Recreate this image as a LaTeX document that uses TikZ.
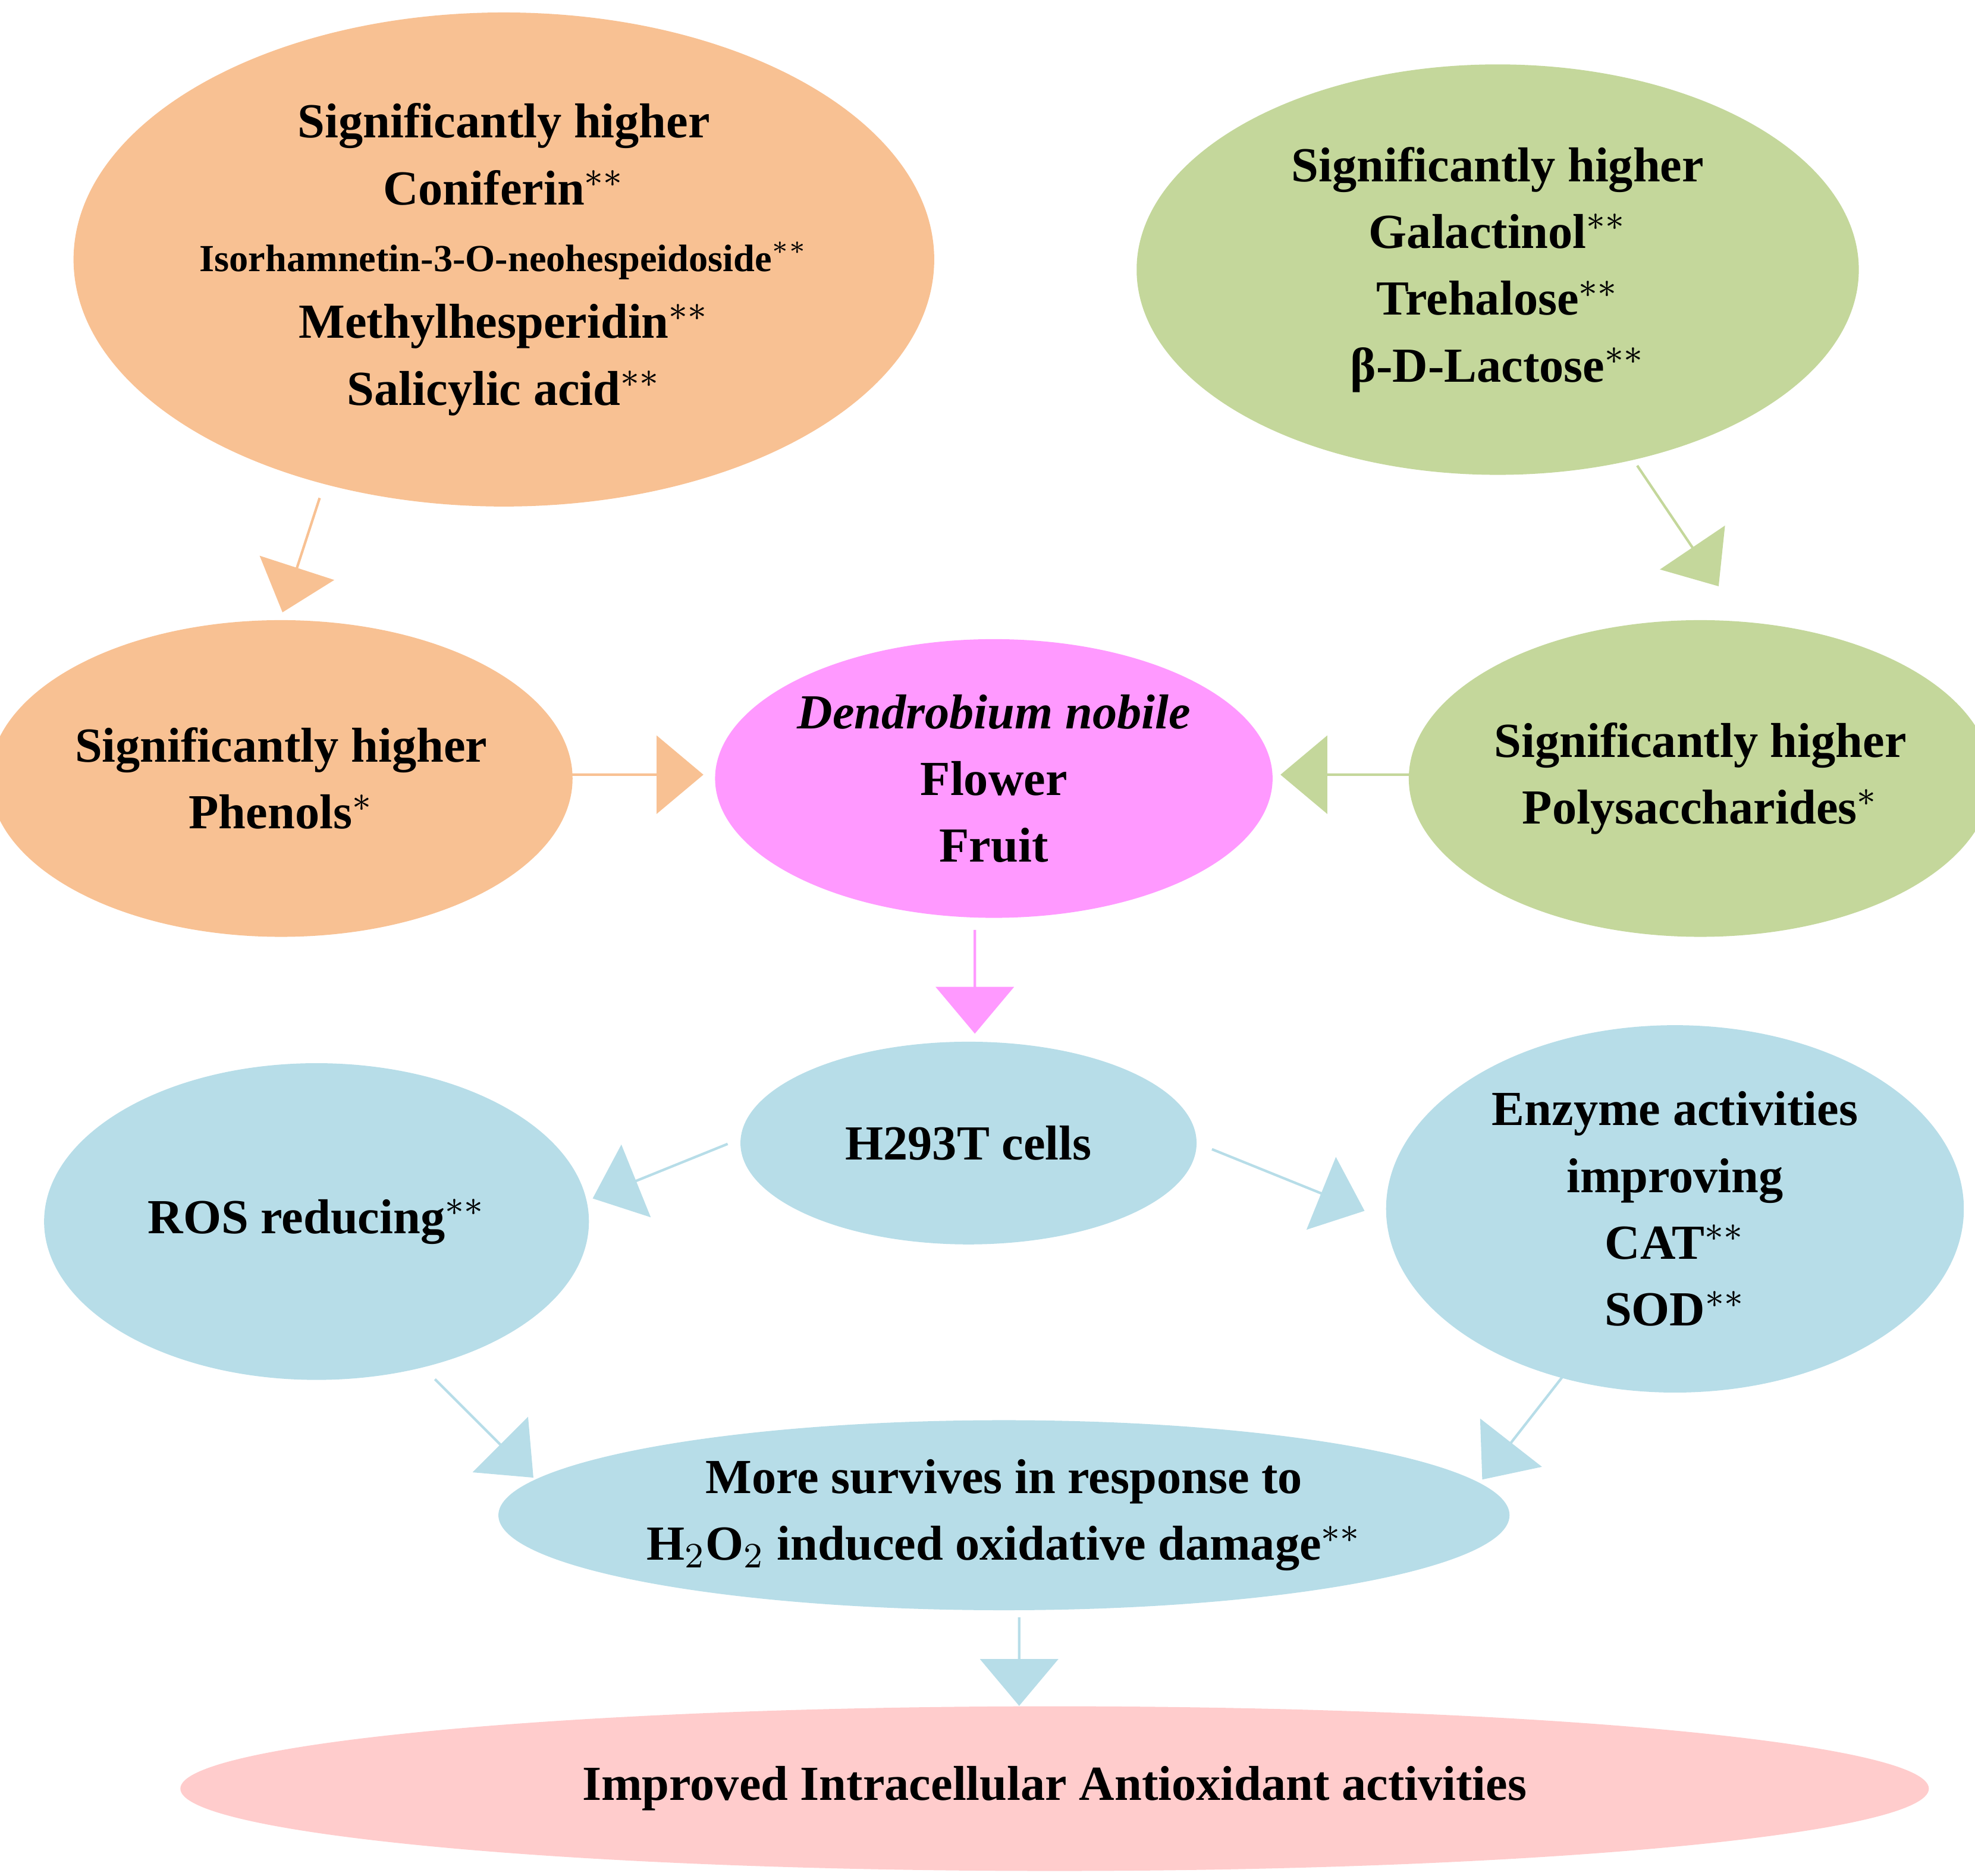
\documentclass[tikz,border=0pt]{standalone}
\usepackage{fontspec}
\setmainfont{Liberation Serif}
\usetikzlibrary{shapes.arrows,shapes.geometric}
\definecolor{cOr}{HTML}{F8C193}
\definecolor{cGr}{HTML}{C4D79B}
\definecolor{cPk}{HTML}{FF99FF}
\definecolor{cBl}{HTML}{B7DDE8}
\definecolor{cLp}{HTML}{FFCCCC}
\begin{document}
\begin{tikzpicture}[x=0.01cm,y=-0.01cm,
  ell/.style args={#1/#2/#3}{draw=none,fill=#1,ellipse,minimum width=#2*0.02cm,minimum height=#3*0.02cm,inner sep=0pt,align=center,font=\bfseries\fontsize{11}{15}\selectfont},
  barr/.style args={#1/#2/#3}{single arrow,draw=none,fill=#1,minimum height=#2*0.01cm,minimum width=#3*0.01cm,single arrow head extend=0.3cm,single arrow tip angle=80,inner sep=0pt,shape border uses incircle}]
\useasboundingbox (0,0) rectangle (1560,1482);
\node[ell=cOr/313/195] (o1) at (398,205) {Significantly higher\\Coniferin$^{**}$\\{\fontsize{8.6}{15}\selectfont Isorhamnetin-3-O-neohespeidoside$^{**}$}\\Methylhesperidin$^{**}$\\Salicylic acid$^{**}$};
\node[ell=cGr/285/162] (g1) at (1183,213) {Significantly higher\\Galactinol$^{**}$\\Trehalose$^{**}$\\β-D-Lactose$^{**}$};
\node[ell=cOr/215/125] (o2) at (222,615) {Significantly higher\\Phenols$^{*}$};
\node[ell=cPk/220/110] (p) at (785,615) {\textit{Dendrobium nobile}\\Flower\\Fruit};
\node[ell=cGr/215/125] (g2) at (1343,615) {Significantly higher\\Polysaccharides$^{*}$};
\node[ell=cBl/180/80] (h) at (765,903) {H293T cells};
\node[ell=cBl/215/125] (r) at (250,965) {ROS reducing$^{**}$};
\node[ell=cBl/228/145] (e) at (1323,955) {Enzyme activities\\improving\\CAT$^{**}$\\SOD$^{**}$};
\node[ell=cBl/397/75] (m) at (793,1197) {More survives in response to\\H$_2$O$_2$ induced oxidative damage$^{**}$};
\node[ell=cLp/690/65] (f) at (833,1413) {Improved Intracellular Antioxidant activities};
\node[barr=cOr/95/55,rotate=-108] (a1) at (238,438) {};
\node[barr=cGr/115/60,rotate=-56] (a2) at (1325,415) {};
\node[barr=cOr/110/58] (a3) at (500,612) {};
\node[barr=cGr/110/58,rotate=180] (a4) at (1067,612) {};
\node[barr=cPk/82/60,rotate=-90] (a5) at (770,775) {};
\node[barr=cBl/115/60,rotate=202] (a6) at (522,925) {};
\node[barr=cBl/130/60,rotate=-22] (a7) at (1017,932) {};
\node[barr=cBl/110/60,rotate=-45] (a8) at (382,1128) {};
\node[barr=cBl/110/60,rotate=-128] (a9) at (1205,1125) {};
\node[barr=cBl/70/60,rotate=-90] (a10) at (805,1312) {};
\end{tikzpicture}
\end{document}
